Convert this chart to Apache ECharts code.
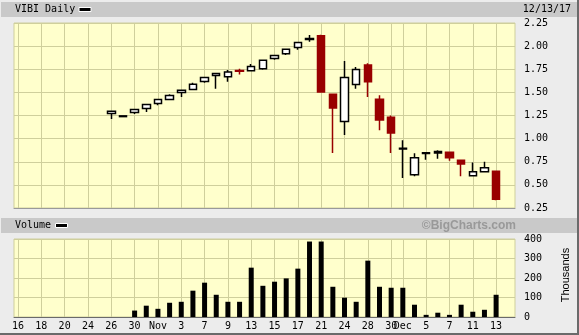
<!DOCTYPE html>
<html><head><meta charset="utf-8">
<script src="https://cdn.jsdelivr.net/npm/echarts@6/dist/echarts.min.js"></script>
<style>html,body{margin:0;padding:0;background:#ececec}#c{width:579px;height:335px}</style>
</head><body><div id="c"></div>
<script>
// trading days Oct 16 – Dec 13, 2017 (index = position on the x axis)
const days = ['16','17','18','19','20','23','24','25','26','27','30','31','Nov','2','3','6','7','8','9','10','13','14','15','16','17','20','21','22','24','27','28','29','30','Dec','4','5','6','7','8','11','12','13'];
const tickIdx = [0,2,4,6,8,10,12,14,16,18,20,22,24,26,28,30,32,33,35,37,39,41];
// candles start at index 8
const candleStart = 8;
const open  = [1.272,1.238,1.282,1.325,1.379,1.423,1.499,1.531,1.618,1.683,1.668,1.737,1.733,1.755,1.867,1.917,1.984,2.072,2.112,1.480,1.184,1.585,1.795,1.426,1.231,0.887,0.610,0.840,0.845,0.852,0.765,0.599,0.642,0.646];
const close = [1.296,1.246,1.314,1.369,1.423,1.466,1.524,1.589,1.661,1.705,1.719,1.728,1.781,1.846,1.900,1.965,2.039,2.082,1.505,1.332,1.661,1.748,1.614,1.202,1.061,0.897,0.794,0.848,0.860,0.794,0.725,0.642,0.685,0.345];
const low   = [1.213,1.238,1.267,1.289,1.361,1.423,1.451,1.531,1.603,1.538,1.614,1.694,1.733,1.744,1.852,1.903,1.961,2.047,1.505,0.844,1.039,1.538,1.451,1.090,0.844,0.573,0.594,0.772,0.783,0.762,0.594,0.599,0.642,0.334];
const high  = [1.296,1.246,1.314,1.369,1.423,1.480,1.524,1.603,1.661,1.705,1.741,1.755,1.806,1.846,1.900,1.965,2.039,2.120,2.123,1.480,1.838,1.773,1.816,1.470,1.249,0.982,0.841,0.848,0.873,0.852,0.765,0.743,0.751,0.646];
// volume (thousands) starts at index 10
const volStart = 10;
const volume = [33,58,42,73,78,135,176,114,78,78,253,160,181,198,248,387,387,155,99,78,289,155,150,150,63,11,22,11,63,27,37,114];
const priceTicks = [0.25, 2.25, 0.25];   // min, max, step
const volTicks = [0, 400, 100];

const candleData = open.map((o,i)=>[candleStart+i, o, close[i], low[i], high[i]]);
const volData = volume.map((v,i)=>[volStart+i, v]);

const FONT = 'DejaVu Sans Mono';
const gridColor = '#cfcf9c';
const xMin = -0.343, xMax = 42.62;

const chart = echarts.init(document.getElementById('c'), null, {renderer:'canvas'});
const xBase = (gi, showLabels, lineColor) => ({
  type:'value', gridIndex:gi, min:xMin, max:xMax,
  axisLine:{show:true, onZero:false, lineStyle:{color:lineColor, width:1}},
  axisTick:{show:false, customValues:tickIdx},
  axisLabel:{show:showLabels, customValues:tickIdx, margin:4, color:'#000', fontFamily:FONT, fontSize:10,
    formatter:v=>days[Math.round(v)]},
  splitLine:{show:true, lineStyle:{color:gridColor, width:1}}
});
chart.setOption({
  animation:false,
  backgroundColor:'#ececec',
  graphic:[
    {type:'rect', shape:{x:0,y:0,width:579,height:335}, style:{fill:'#ececec'}, z:-10},
    {type:'rect', shape:{x:577,y:0,width:2,height:335}, style:{fill:'#6a6a6a'}, z:-9},
    {type:'rect', shape:{x:0,y:333,width:579,height:2}, style:{fill:'#6a6a6a'}, z:-9},
    {type:'rect', shape:{x:1,y:2,width:576,height:15}, style:{fill:'#c9c9c9'}, z:-8},
    {type:'rect', shape:{x:1,y:218,width:576,height:15}, style:{fill:'#c9c9c9'}, z:-8},
    {type:'text', x:15, y:9.5, style:{text:'VIBI Daily', font:'10px "DejaVu Sans Mono"', fill:'#000', textVerticalAlign:'middle'}},
    {type:'rect', shape:{x:79,y:7.5,width:12,height:4}, style:{fill:'#000', stroke:'#fff', lineWidth:1}},
    {type:'text', x:571, y:9.5, style:{text:'12/13/17', font:'10px "DejaVu Sans Mono"', fill:'#000', textAlign:'right', textVerticalAlign:'middle'}},
    {type:'text', x:15, y:225.5, style:{text:'Volume', font:'10px "DejaVu Sans Mono"', fill:'#000', textVerticalAlign:'middle'}},
    {type:'rect', shape:{x:55.5,y:223.5,width:12,height:4}, style:{fill:'#000', stroke:'#fff', lineWidth:1}},
    {type:'text', x:516, y:225.5, style:{text:'©BigCharts.com', font:'bold 12px "Liberation Sans"', fill:'#999', textAlign:'right', textVerticalAlign:'middle'}},
    {type:'text', x:566, y:275, rotation:Math.PI/2, style:{text:'Thousands', font:'11px "Liberation Sans"', fill:'#000', textAlign:'center', textVerticalAlign:'middle'}}
  ],
  grid:[
    {left:14, right:64, top:23, height:185, show:true, backgroundColor:'#ffffcc', borderColor:gridColor, borderWidth:1},
    {left:14, right:64, top:239, height:78, show:true, backgroundColor:'#ffffcc', borderColor:gridColor, borderWidth:1}
  ],
  xAxis:[ xBase(0,false,'#9a9a9a'), xBase(1,true,'#6a6a6a') ],
  yAxis:[
    {type:'value', gridIndex:0, position:'right', min:priceTicks[0], max:priceTicks[1], interval:priceTicks[2],
      axisLine:{show:false}, axisTick:{show:false},
      axisLabel:{margin:9, color:'#000', fontFamily:FONT, fontSize:10, formatter:v=>v.toFixed(2)},
      splitLine:{show:true, lineStyle:{color:gridColor, width:1}}},
    {type:'value', gridIndex:1, position:'right', min:volTicks[0], max:volTicks[1], interval:volTicks[2],
      axisLine:{show:false}, axisTick:{show:false},
      axisLabel:{margin:9, color:'#000', fontFamily:FONT, fontSize:10},
      splitLine:{show:true, lineStyle:{color:gridColor, width:1}}}
  ],
  series:[
    {type:'candlestick', xAxisIndex:0, yAxisIndex:0, data:candleData, encode:{x:0, y:[1,2,3,4]},
      barWidth:8,
      itemStyle:{color:'#ffffff', color0:'#990000', borderColor:'#000000', borderColor0:'#990000', borderWidth:1.5}},
    {type:'bar', xAxisIndex:1, yAxisIndex:1, data:volData, barWidth:5, itemStyle:{color:'#000'}}
  ]
});
</script></body></html>
